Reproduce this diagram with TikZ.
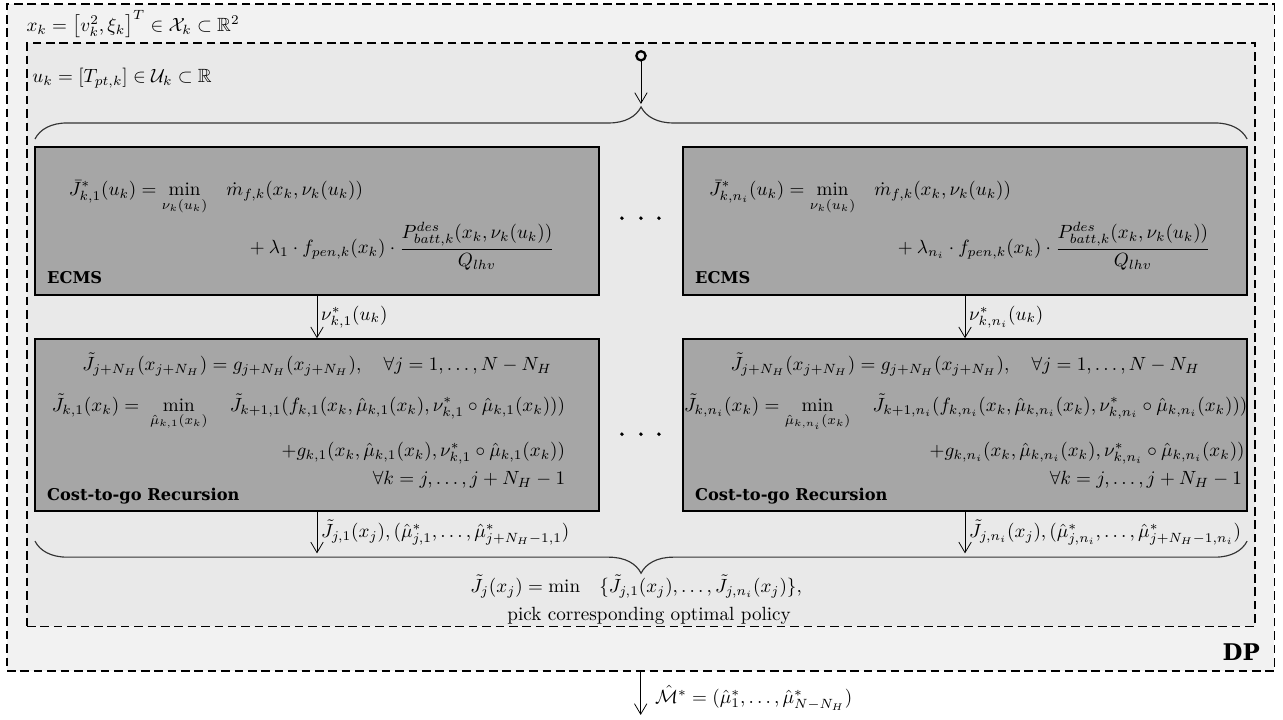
\documentclass[tikz,border=0pt]{standalone}
\usepackage{amsmath}
\usepackage{amssymb}
\usepackage{fontspec}
\usepackage{tikz}
\usetikzlibrary{calc,arrows.meta,decorations.pathreplacing}
\usepackage{xcolor}
\newfontfamily\blocklabelfont{DejaVu Serif}

\begin{document}
\begin{tikzpicture}[>={Straight Barb[length=5.5pt,width=6.5pt]},
  dpframe/.style={draw,thick,dash pattern=on 4.5pt off 2.5pt,inner sep=0pt},
  solverbox/.style={draw,thick,fill=gray!70,minimum width=10.37cm,inner sep=0pt},
  boxlabel/.style={font=\blocklabelfont\bfseries\fontsize{8.5}{10}\selectfont,inner sep=0pt},
  bracefig/.style={decorate,decoration={brace,amplitude=.59cm},semithick,draw=black!80}]

\useasboundingbox (0,0) rectangle (23.58,-13.22);

%DP frame
\node[dpframe,fill=gray!10,minimum width=23.29cm,minimum height=12.26cm] (dp) at (11.775,-6.202) {};
\node[dpframe,fill=gray!17,minimum width=22.57cm,minimum height=10.72cm] (horizon) at (11.783,-6.15) {};
\node[anchor=west,inner sep=0pt] (xstate) at (0.48,-0.45) {$x_k = \big[v_k^2,\xi_k\big]^T \in \mathcal{X}_k \subset \mathbb{R}^2$};
\node[anchor=west,inner sep=0pt] (uinput) at (0.59,-1.43) {$u_k = [T_{pt,k}] \in \mathcal{U}_k \subset \mathbb{R}$};
\node[boxlabel,font=\blocklabelfont\bfseries\fontsize{12}{14}\selectfont,anchor=east] (dplbl) at (23.16,-11.99) {DP};

\coordinate (uin) at (11.78,-0.92);
\coordinate (btop) at (11.78,-1.91);
\draw[{Circle[open,length=6pt,line width=1.2pt]}->] (uin) -- (btop);
\draw[bracefig] (0.643,-2.555) -- (22.92,-2.555);

%branch 1
\begin{scope}
\node[solverbox,minimum height=2.72cm] (ecms1) at (5.826,-4.06) {};
\node[anchor=base] (ecmseq1) at (5.73,-3.60) {$\begin{aligned}[t]
  \bar{J}^*_{k,1}(u_k) = \min_{\nu_k(u_k)} \quad & \dot{m}_{f,k}(x_k,\nu_k(u_k))\\
  & \quad + \lambda_1 \cdot f_{pen,k}(x_k) \cdot \frac{P^{des}_{batt,k}(x_k,\nu_k(u_k))}{Q_{lhv}}
  \end{aligned}$};
\node[boxlabel,anchor=south west] (ecmslbl1) at (0.86,-5.22) {ECMS};

\node[solverbox,minimum height=3.16cm] (ctg1) at (5.826,-7.81) {};
\node[anchor=base] (ctgtop1) at (5.826,-6.81) {$\tilde{J}_{j+N_H}(x_{j+N_H}) = g_{j+N_H}(x_{j+N_H}), \quad \forall j = 1,\dots,N-N_H$};
\node[anchor=base east] (ctgmin1) at (10.51,-7.56) {$\tilde{J}_{k,1}(x_k) =\; \displaystyle\min_{\hat{\mu}_{k,1}(x_k)} \quad \tilde{J}_{k+1,1}(f_{k,1}(x_k,\hat{\mu}_{k,1}(x_k),\nu^*_{k,1}\circ\hat{\mu}_{k,1}(x_k)))$};
\node[anchor=base east] (ctgstage1) at (10.51,-8.39) {$+g_{k,1}(x_k,\hat{\mu}_{k,1}(x_k),\nu^*_{k,1}\circ\hat{\mu}_{k,1}(x_k))$};
\node[anchor=base east] (ctgrange1) at (10.51,-8.91) {$\forall k = j,\dots,j+N_H-1$};
\node[boxlabel,anchor=south west] (ctglbl1) at (0.86,-9.27) {Cost-to-go Recursion};

\coordinate (jend1) at (5.826,-10.17);
\draw[->] (ecms1) -- node[right,inner sep=2pt] (nulbl1) {$\nu^*_{k,1}(u_k)$} (ctg1);
\draw[->] (ctg1) -- node[right,inner sep=2pt] (jlbl1) {$\tilde{J}_{j,1}(x_j), (\hat{\mu}^*_{j,1},\dots,\hat{\mu}^*_{j+N_H-1,1})$} (jend1);
\end{scope}

%branch n_i
\begin{scope}
\node[solverbox,minimum height=2.72cm] (ecmsn) at (17.736,-4.06) {};
\node[anchor=base] (ecmseqn) at (17.64,-3.60) {$\begin{aligned}[t]
  \bar{J}^*_{k,n_i}(u_k) = \min_{\nu_k(u_k)} \quad & \dot{m}_{f,k}(x_k,\nu_k(u_k))\\
  & \quad + \lambda_{n_i} \cdot f_{pen,k}(x_k) \cdot \frac{P^{des}_{batt,k}(x_k,\nu_k(u_k))}{Q_{lhv}}
  \end{aligned}$};
\node[boxlabel,anchor=south west] (ecmslbln) at (12.77,-5.22) {ECMS};

\node[solverbox,minimum height=3.16cm] (ctgn) at (17.736,-7.81) {};
\begin{scope}
\clip (ctgn.south west) rectangle (ctgn.north east);
\node[anchor=base] (ctgtopn) at (17.736,-6.81) {$\tilde{J}_{j+N_H}(x_{j+N_H}) = g_{j+N_H}(x_{j+N_H}), \quad \forall j = 1,\dots,N-N_H$};
\node[anchor=base east] (ctgminn) at (23.05,-7.56) {$\tilde{J}_{k,n_i}(x_k) = \displaystyle\min_{\hat{\mu}_{k,n_i}(x_k)} \quad \tilde{J}_{k+1,n_i}(f_{k,n_i}(x_k,\hat{\mu}_{k,n_i}(x_k),\nu^*_{k,n_i}\circ\hat{\mu}_{k,n_i}(x_k)))$};
\node[anchor=base east] (ctgstagen) at (23.0,-8.39) {$+g_{k,n_i}(x_k,\hat{\mu}_{k,n_i}(x_k),\nu^*_{k,n_i}\circ\hat{\mu}_{k,n_i}(x_k))$};
\node[anchor=base east] (ctgrangen) at (22.95,-8.91) {$\forall k = j,\dots,j+N_H-1$};
\end{scope}
\node[boxlabel,anchor=south west] (ctglbln) at (12.77,-9.27) {Cost-to-go Recursion};

\coordinate (jendn) at (17.736,-10.17);
\draw[->] (ecmsn) -- node[right,inner sep=2pt] (nulbln) {$\nu^*_{k,n_i}(u_k)$} (ctgn);
\draw[->] (ctgn) -- node[right,inner sep=2pt] (jlbln) {$\tilde{J}_{j,n_i}(x_j), (\hat{\mu}^*_{j,n_i},\dots,\hat{\mu}^*_{j+N_H-1,n_i})$} (jendn);
\end{scope}

%dots between branches
\fill (11.43,-4.01) circle (.036);
\fill (11.78,-4.01) circle (.036);
\fill (12.11,-4.01) circle (.036);
\fill (11.43,-7.98) circle (.036);
\fill (11.78,-7.98) circle (.036);
\fill (12.11,-7.98) circle (.036);

%selection of the best branch
\draw[bracefig] (22.92,-9.945) -- (0.643,-9.945);
\node (minsel) at (11.69,-10.78) {$\tilde{J}_j(x_j) = \min \quad \{\tilde{J}_{j,1}(x_j),\dots,\tilde{J}_{j,n_i}(x_j)\},$};
\node (pick) at (11.93,-11.31) {pick corresponding optimal policy};

\coordinate (mout) at (11.775,-13.14);
\draw[->] (dp.south) -- node[pos=.6,right,xshift=4pt] (mlbl) {$\hat{\mathcal{M}}^* = (\hat{\mu}^*_1,\dots,\hat{\mu}^*_{N-N_H})$} (mout);

\end{tikzpicture}
\end{document}
